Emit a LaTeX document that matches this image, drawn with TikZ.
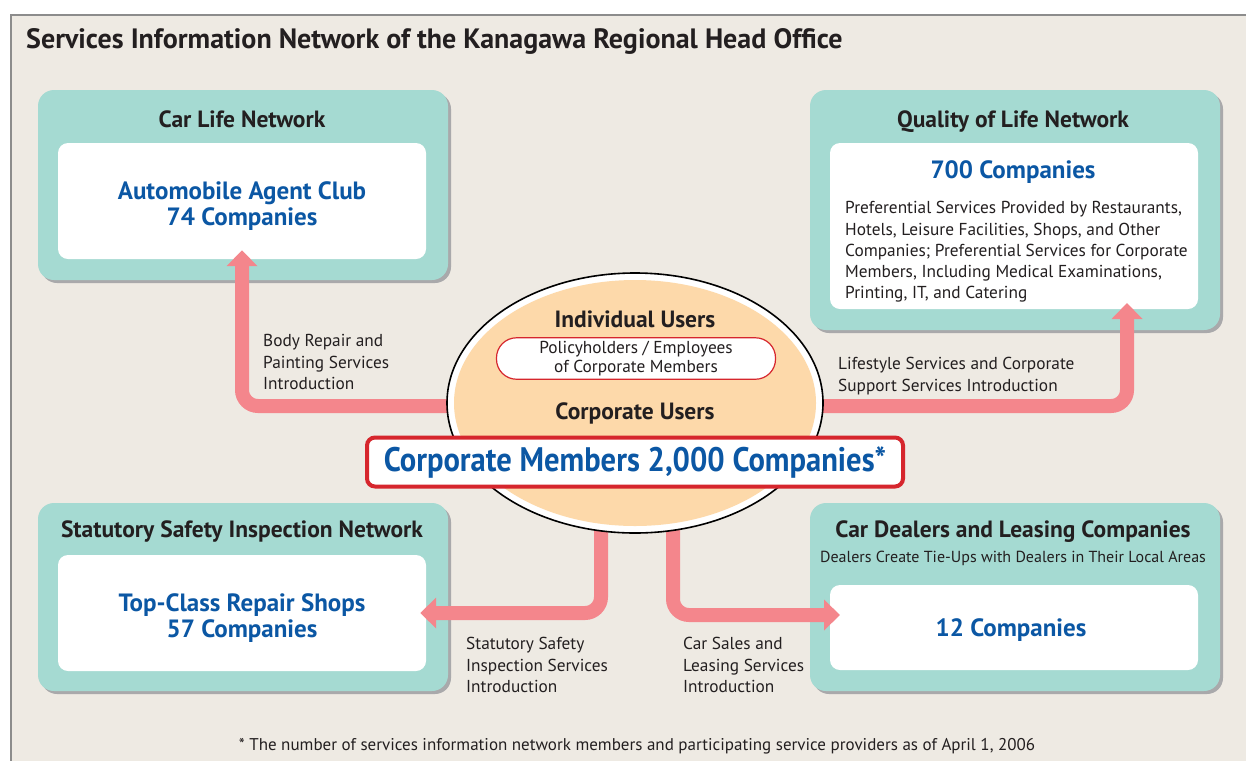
\documentclass[tikz,border=0pt]{standalone}
\usepackage{fontspec}
\setmainfont{PT Sans}
\newfontfamily\narrowsans{PT Sans}[FakeStretch=0.9]
\usetikzlibrary{shapes.geometric,arrows.meta,shadows}

\definecolor{paper}{HTML}{EEEAE3}
\definecolor{framegray}{HTML}{8C8C8C}
\definecolor{teal}{HTML}{A5DAD2}
\definecolor{boxshadow}{HTML}{A9A9AB}
\definecolor{navy}{HTML}{0B57A4}
\definecolor{ink}{HTML}{231F20}
\definecolor{flowpink}{HTML}{F4868C}
\definecolor{usersfill}{HTML}{FDD9AA}
\definecolor{redline}{HTML}{D6262D}

\begin{document}
\begin{tikzpicture}[x=1pt,y=-1pt,
    netbox/.style={fill=teal,rounded corners=16pt,inner sep=0pt,
      drop shadow={shadow xshift=3pt,shadow yshift=-3pt,fill=boxshadow,opacity=1}},
    inbox/.style={fill=white,rounded corners=10pt,inner sep=0pt,minimum width=368pt},
    nettitle/.style={text=ink,font=\fontsize{23.5}{26}\selectfont\bfseries},
    bluetext/.style={text=navy,align=center,font=\fontsize{25}{26.5}\selectfont\bfseries},
    plain/.style={text=ink,align=left,inner sep=0pt,font=\fontsize{17.3}{21.3}\selectfont},
    flow/.style={draw=flowpink,line width=14pt,rounded corners=16pt,
      -{Triangle[width=30pt,length=16pt]}}]

  \useasboundingbox (0,0) rectangle (1246,761);
  \fill[paper] (11,15) rectangle (1246,761);
  \draw[framegray,line width=1.2pt] (1246,15) -- (11,15) -- (11,761);

  \node[text=ink,anchor=west,inner sep=0pt,font=\fontsize{28}{30}\selectfont\bfseries]
    (heading) at (26,41) {Services Information Network of the Kanagawa Regional Head Office};

  % the four networks
  \node[netbox,minimum width=410pt,minimum height=190pt] (carlife) at (243,185) {};
  \node[inbox,minimum height=116pt] (clubin) at (242,201) {};
  \node[nettitle] (carlifet) at (242,119) {Car Life Network};
  \node[bluetext] (club) at (242,206) {Automobile Agent Club\\74 Companies};

  \node[netbox,minimum width=410pt,minimum height=240pt] (quality) at (1015,210) {};
  \node[inbox,minimum height=166pt] (lifein) at (1014,226) {};
  \node[nettitle] (qualityt) at (1013,122) {Quality of Life Network};
  \node[bluetext] (life) at (1013,172) {700 Companies};
  \node[plain,anchor=west] (lifetext) at (845,252) {Preferential Services Provided by Restaurants,\\
    Hotels, Leisure Facilities, Shops, and Other\\
    Companies; Preferential Services for Corporate\\
    Members, Including Medical Examinations,\\
    Printing, IT, and Catering};

  \node[netbox,minimum width=410pt,minimum height=188pt] (safety) at (243,597) {};
  \node[inbox,minimum height=116pt] (repairin) at (242,613) {};
  \node[nettitle] (safetyt) at (242,532) {Statutory Safety Inspection Network};
  \node[bluetext] (repair) at (242,618) {Top-Class Repair Shops\\57 Companies};

  \node[netbox,minimum width=410pt,minimum height=188pt] (dealers) at (1015,597) {};
  \node[inbox,minimum height=85pt] (dealin) at (1014,627.5) {};
  \node[nettitle] (dealerst) at (1013,532) {Car Dealers and Leasing Companies};
  \node[text=ink,font=\fontsize{16}{18}\selectfont] (dealerss) at (1013,558)
    {Dealers Create Tie-Ups with Dealers in Their Local Areas};
  \node[bluetext] (deal) at (1011,630) {12 Companies};

  % introductions
  \coordinate (lifetip) at (1127,303);
  \coordinate (usersl) at (601,500);
  \coordinate (usersr) at (673,500);
  \coordinate (dealtip) at (840,615);
  \draw[flow] (470,406) -| ([yshift=9pt]clubin.south);
  \draw[flow] (800,406) -| (lifetip);
  \draw[flow] (usersl) |- ([xshift=-6pt]repairin.east);
  \draw[flow] (usersr) |- (dealtip);

  \node[plain,anchor=west] (bodylbl) at (263,362) {Body Repair and\\Painting Services\\Introduction};
  \node[plain,anchor=west] (lifelbl) at (838,376) {Lifestyle Services and Corporate\\Support Services Introduction};
  \node[plain,anchor=west] (safetylbl) at (466,665) {Statutory Safety\\Inspection Services\\Introduction};
  \node[plain,anchor=west] (saleslbl) at (683,665) {Car Sales and\\Leasing Services\\Introduction};

  % users in the middle
  \node[ellipse,draw=black,line width=1.6pt,fill=white,
    minimum width=376pt,minimum height=260pt] (users) at (635,403) {};
  \fill[usersfill] (users.center) ellipse [x radius=181pt,y radius=123pt];
  \node[nettitle] (indiv) at (635,319) {Individual Users};
  \node[draw=redline,line width=1.2pt,fill=white,rounded corners=20pt,
    minimum width=279pt,minimum height=40pt,text=ink,align=center,
    font=\fontsize{17.3}{19}\selectfont] (holders) at (636,358.5)
    {Policyholders / Employees\\of Corporate Members};
  \node[nettitle] (corp) at (635,413) {Corporate Users};
  \node[draw=redline,line width=4pt,fill=white,rounded corners=8pt,
    minimum width=536pt,minimum height=49pt,text=navy,
    font=\fontsize{34}{36}\narrowsans\bfseries] (members) at (635,462)
    {Corporate Members 2,000 Companies*};

  \node[text=ink,font=\fontsize{17}{18}\selectfont] (note) at (637,746)
    {* The number of services information network members and participating service providers as of April 1, 2006};
\end{tikzpicture}
\end{document}
